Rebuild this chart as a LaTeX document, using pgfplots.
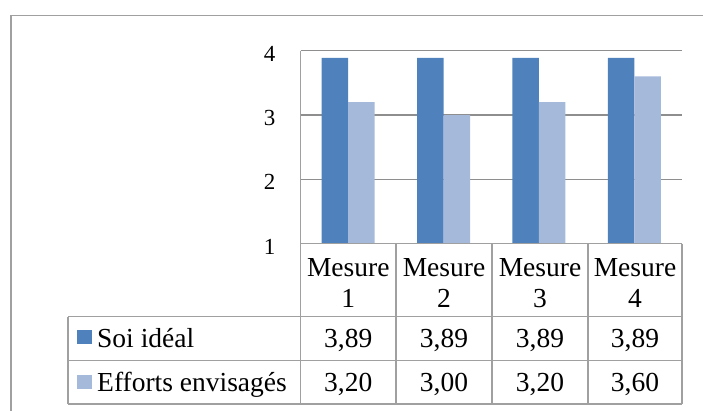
\documentclass[border=0pt]{standalone}
\usepackage{fontspec}
\setmainfont{Liberation Serif}
\usepackage{pgfplots}
\pgfplotsset{compat=1.18}
\definecolor{serA}{HTML}{4F81BD}
\definecolor{serB}{HTML}{A5B9DB}
\definecolor{gridc}{HTML}{8E8E8E}
\definecolor{tabc}{HTML}{A0A0A0}
\begin{document}
\begin{tikzpicture}[x=1pt,y=1pt]
\useasboundingbox (0,0) rectangle (703,411);
% outer chart border
\draw[tabc, line width=1.5pt] (11,0) -- (11,395.7) -- (703,395.7);
\begin{axis}[at={(300.5pt,167.3pt)}, anchor=south west, scale only axis,
  width=381.5pt, height=193pt,
  xmin=0.5, xmax=4.5, ymin=1, ymax=4, ytick={1,2,3,4}, xtick=\empty,
  ybar=0pt, bar width=26.5pt,
  axis line style={draw=none}, ymajorgrids,
  grid style={gridc, line width=1.2pt},
  major tick length=0pt,
  yticklabel style={font=\fontsize{23}{27}\selectfont, anchor=east,
    inner sep=0pt, xshift=-25pt, yshift=-3pt},
  /pgf/number format/assume math mode=true,
]
\addplot[fill=serA, draw=none] coordinates {(1,3.89) (2,3.89) (3,3.89) (4,3.89)};
\addplot[fill=serB, draw=none] coordinates {(1,3.20) (2,3.00) (3,3.20) (4,3.60)};
\end{axis}
% data table grid
\begin{scope}[tabc, line width=1.5pt]
\draw (300.5,360.3) -- (300.5,7);
\foreach \x in {396,492,588,682} \draw (\x,167.3) -- (\x,7);
\draw (300.5,167.3) -- (682,167.3);
\foreach \y in {94.3,50.3,7} \draw (68,\y) -- (682,\y);
\draw (68,94.3) -- (68,7);
\end{scope}
\begin{scope}[font=\fontsize{27.5}{31}\selectfont]
\foreach \cx/\n in {348.25/1,444/2,540/3,635/4} {
  \node[anchor=base, inner sep=0pt] at (\cx,134.3) {Mesure};
  \node[anchor=base, inner sep=0pt] at (\cx,103.3) {\n};
}
\foreach \cx/\a/\b in {348.25/{3,89}/{3,20},444/{3,89}/{3,00},540/{3,89}/{3,20},635/{3,89}/{3,60}} {
  \node[anchor=base, inner sep=0pt] at (\cx,63.5) {\a};
  \node[anchor=base, inner sep=0pt] at (\cx,19.5) {\b};
}
\fill[serA] (77.3,67) rectangle (91.7,81);
\fill[serB] (77.3,21.7) rectangle (91.7,36);
\node[anchor=base west, inner sep=0pt] at (97,63.7) {Soi idéal};
\node[anchor=base west, inner sep=0pt] at (97,19.3) {Efforts envisagés};
\end{scope}
\end{tikzpicture}
\end{document}
